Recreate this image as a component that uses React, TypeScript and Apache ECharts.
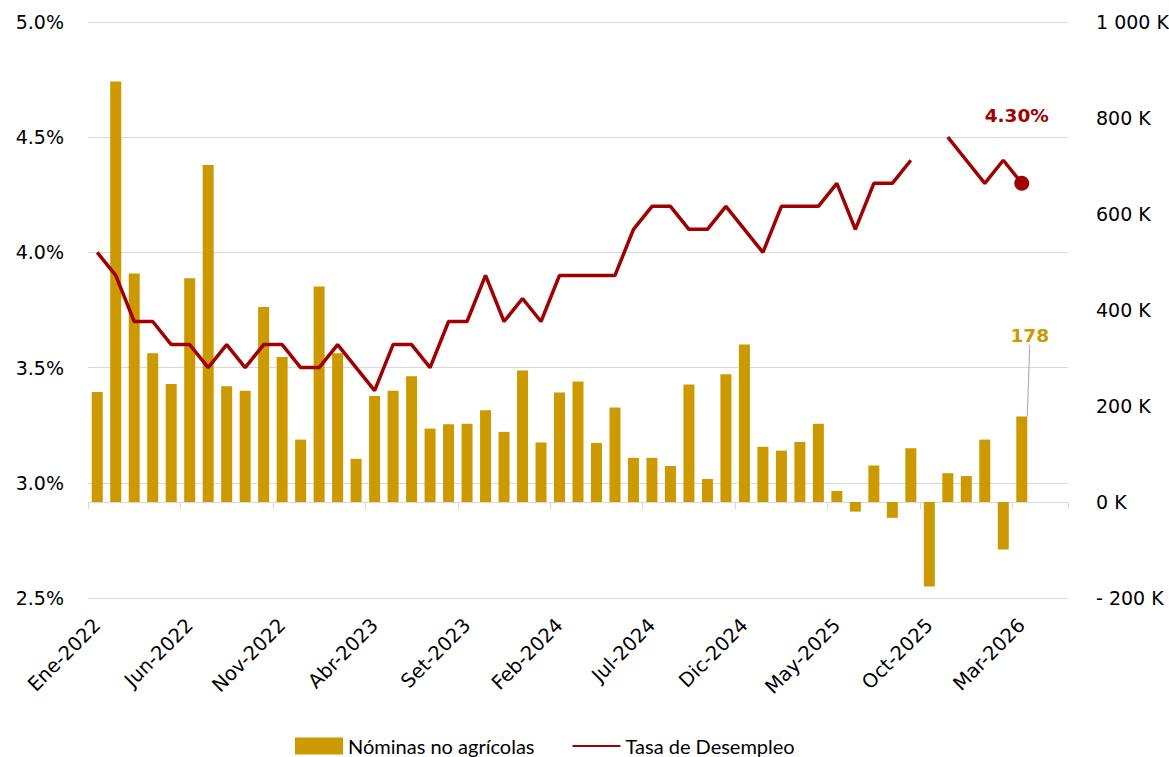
import React, { useEffect, useRef } from 'react';
import * as echarts from 'echarts';

// Month abbreviations (Spanish) and years for the category axis
const MONTHS = ['Ene', 'Feb', 'Mar', 'Abr', 'May', 'Jun', 'Jul', 'Ago', 'Set', 'Oct', 'Nov', 'Dic'];
const YEARS = [2022, 2023, 2024, 2025, 2026];
const LAST_CATEGORY = 'May-2026';

const CATEGORIES: string[] = [];
outer: for (const y of YEARS) {
  for (const m of MONTHS) {
    CATEGORIES.push(`${m}-${y}`);
    if (`${m}-${y}` === LAST_CATEGORY) break outer;
  }
}

// Nóminas no agrícolas (thousands), Ene-2022 .. Mar-2026
const PAYROLLS: number[] = [
  229, 876, 476, 310, 246, 466, 702, 241, 232, 406,
  302, 130, 449, 310, 90, 221, 232, 262, 153, 162,
  163, 191, 146, 274, 124, 228, 251, 123, 197, 92,
  92, 75, 245, 48, 266, 328, 115, 107, 125, 163,
  23, -20, 76, -33, 112, -176, 60, 54, 130, -99, 178,
];

// Tasa de desempleo (%), Ene-2022 .. Mar-2026 (Oct-2025 missing)
const UNEMPLOYMENT: (number | null)[] = [
  4.0, 3.9, 3.7, 3.7, 3.6, 3.6, 3.5, 3.6, 3.5, 3.6,
  3.6, 3.5, 3.5, 3.6, 3.5, 3.4, 3.6, 3.6, 3.5, 3.7,
  3.7, 3.9, 3.7, 3.8, 3.7, 3.9, 3.9, 3.9, 3.9, 4.1,
  4.2, 4.2, 4.1, 4.1, 4.2, 4.1, 4.0, 4.2, 4.2, 4.2,
  4.3, 4.1, 4.3, 4.3, 4.4, null, 4.5, 4.4, 4.3, 4.4, 4.3,
];

const LEFT_TICKS = { min: 2.5, max: 5.0, interval: 0.5 };
const RIGHT_TICKS = { min: -200, max: 1000, interval: 200 };

const GOLD = '#CC9900';
const RED = '#A00000';
const GRID = '#D9D9D9';
const AXIS_FONT = 'DejaVu Sans';

export default function App() {
  const ref = useRef<HTMLDivElement>(null);

  useEffect(() => {
    const chart = echarts.init(ref.current!, null, { renderer: 'svg' });
    const lastBar = PAYROLLS.length - 1;
    const lastRate = UNEMPLOYMENT.length - 1;

    chart.setOption({
      animation: false,
      backgroundColor: '#ffffff',
      grid: { left: 88, right: 101, top: 22, bottom: 159, containLabel: false, outerBoundsMode: 'none' },
      legend: {
        left: 295,
        top: 736,
        padding: 0,
        itemWidth: 48,
        itemHeight: 17,
        itemGap: 37,
        textStyle: { fontFamily: 'Lato', fontSize: 20, color: '#000' },
        data: [
          { name: 'Nóminas no agrícolas', icon: 'rect' },
          { name: 'Tasa de Desempleo', itemStyle: { opacity: 0 } },
        ],
      },
      xAxis: {
        type: 'category',
        data: CATEGORIES,
        boundaryGap: true,
        axisLine: { show: true, lineStyle: { color: GRID, width: 1 } },
        axisTick: { show: true, interval: 4, length: 7, lineStyle: { color: GRID, width: 1 } },
        axisLabel: {
          interval: 4,
          rotate: 45,
          margin: 24,
          fontFamily: AXIS_FONT,
          fontSize: 19.5,
          color: '#000',
        },
        splitLine: { show: false },
      },
      yAxis: [
        {
          type: 'value',
          position: 'left',
          min: LEFT_TICKS.min,
          max: LEFT_TICKS.max,
          interval: LEFT_TICKS.interval,
          axisLine: { show: false },
          axisTick: { show: false },
          splitLine: { show: true, lineStyle: { color: GRID, width: 1 } },
          axisLabel: {
            formatter: (v: number) => `${v.toFixed(1)}%`,
            margin: 24,
            fontFamily: AXIS_FONT,
            fontSize: 19,
            color: '#000',
          },
        },
        {
          type: 'value',
          position: 'right',
          min: RIGHT_TICKS.min,
          max: RIGHT_TICKS.max,
          interval: RIGHT_TICKS.interval,
          axisLine: { show: false },
          axisTick: { show: false },
          splitLine: { show: false },
          axisLabel: {
            formatter: (v: number) => {
              if (v < 0) return `- ${Math.abs(v)} K`;
              if (v >= 1000) return `${Math.floor(v / 1000)} ${String(v % 1000).padStart(3, '0')} K`;
              return `${v} K`;
            },
            margin: 28,
            align: 'left',
            fontFamily: AXIS_FONT,
            fontSize: 19,
            color: '#000',
          },
        },
      ],
      series: [
        {
          name: 'Nóminas no agrícolas',
          type: 'bar',
          yAxisIndex: 1,
          barWidth: 11,
          itemStyle: { color: GOLD },
          data: PAYROLLS.map((v, i) =>
            i === lastBar
              ? {
                  value: v,
                  label: {
                    show: true,
                    position: 'top',
                    formatter: '{c}',
                    fontFamily: AXIS_FONT,
                    fontWeight: 'bold',
                    fontSize: 18.5,
                    color: GOLD,
                  },
                  labelLine: { show: true, lineStyle: { color: '#A6A6A6', width: 1 } },
                }
              : v
          ),
          labelLayout: (p: any) => (p.dataIndex === lastBar ? { dx: 8, dy: -67 } : {}),
          labelLine: { show: true, lineStyle: { color: '#A6A6A6', width: 1 } },
          z: 2,
        },
        {
          name: 'Tasa de Desempleo',
          type: 'line',
          yAxisIndex: 0,
          symbol: 'none',
          connectNulls: false,
          lineStyle: { color: RED, width: 3.5 },
          itemStyle: { color: RED },
          data: UNEMPLOYMENT,
          z: 3,
        },
        {
          name: 'Último dato',
          type: 'scatter',
          yAxisIndex: 0,
          symbol: 'circle',
          symbolSize: 15,
          itemStyle: { color: RED, opacity: 1 },
          data: [[lastRate, UNEMPLOYMENT[lastRate]]],
          label: {
            show: true,
            position: 'top',
            offset: [-5, -46],
            formatter: (p: any) => `${(p.value[1] as number).toFixed(2)}%`,
            fontFamily: AXIS_FONT,
            fontWeight: 'bold',
            fontSize: 18.5,
            color: RED,
          },
          z: 4,
        },
      ],
    });

    return () => chart.dispose();
  }, []);

  return (
    <div
      ref={ref}
      style={{ position: 'fixed', left: 0, top: 0, width: 1169, height: 757 }}
    />
  );
}
